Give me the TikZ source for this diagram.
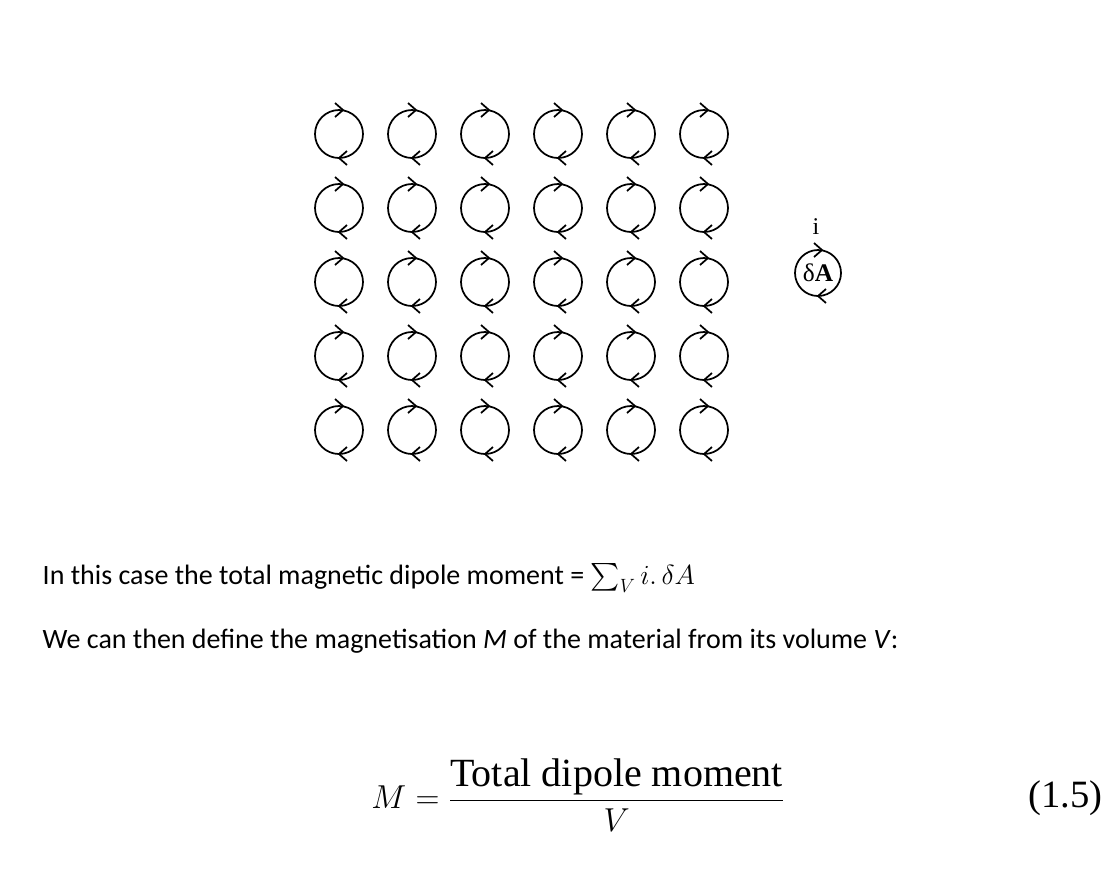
\documentclass[tikz,border=0pt]{standalone}
\usepackage{amsmath}
\usepackage{fontspec}
\setmainfont{Carlito}
\newfontfamily\serifA{Liberation Serif}
\usetikzlibrary{calc}
\begin{document}
\begin{tikzpicture}[x=0.75pt,y=-0.75pt,
  loopc/.style={line width=1.3pt},
  chev/.style={line width=1.3pt,line join=miter}]
\useasboundingbox (0,0) rectangle (1111,879);
\foreach \c in {0,...,5}{
  \foreach \r in {0,...,4}{
    \coordinate (p\c\r) at (339+73*\c,134+74*\r);
    \draw[loopc] (p\c\r) circle (24);
    \draw[chev] ($(p\c\r)+(-4,-31)$) -- ($(p\c\r)+(4,-24)$) -- ($(p\c\r)+(-4,-17)$);
    \draw[chev] ($(p\c\r)+(8,17)$) -- ($(p\c\r)+(0,24)$) -- ($(p\c\r)+(8,31)$);
  }
}
\coordinate (q) at (818,273);
\draw[loopc] (q) circle (23);
\draw[chev] ($(q)+(-4,-30)$) -- ($(q)+(4,-23)$) -- ($(q)+(-4,-16)$);
\draw[chev] ($(q)+(8,16)$) -- ($(q)+(0,23)$) -- ($(q)+(8,30)$);
\node[inner sep=0pt,font=\serifA\fontsize{19}{21}\selectfont] (dA) at (q) {δ\textbf{A}};
\node[font=\serifA\fontsize{18}{20}\selectfont] (iL) at (816,227) {i};
\node[anchor=west,font=\fontsize{21}{24}\selectfont] (t1) at (38,578)
  {In this case the total magnetic dipole moment = $\sum_V i.\,\delta A$};
\node[anchor=west,font=\fontsize{21}{24}\selectfont] (t2) at (38,641)
  {We can then define the magnetisation \textit{M} of the material from its volume \textit{V}:};
\node[font=\fontsize{30}{34}\selectfont] (eq) at (578,795)
  {$M=\dfrac{\text{\serifA Total dipole moment}}{V}$};
\node[anchor=east,font=\serifA\fontsize{29}{32}\selectfont] (num) at (1107,798) {(1.5)};
\end{tikzpicture}
\end{document}
